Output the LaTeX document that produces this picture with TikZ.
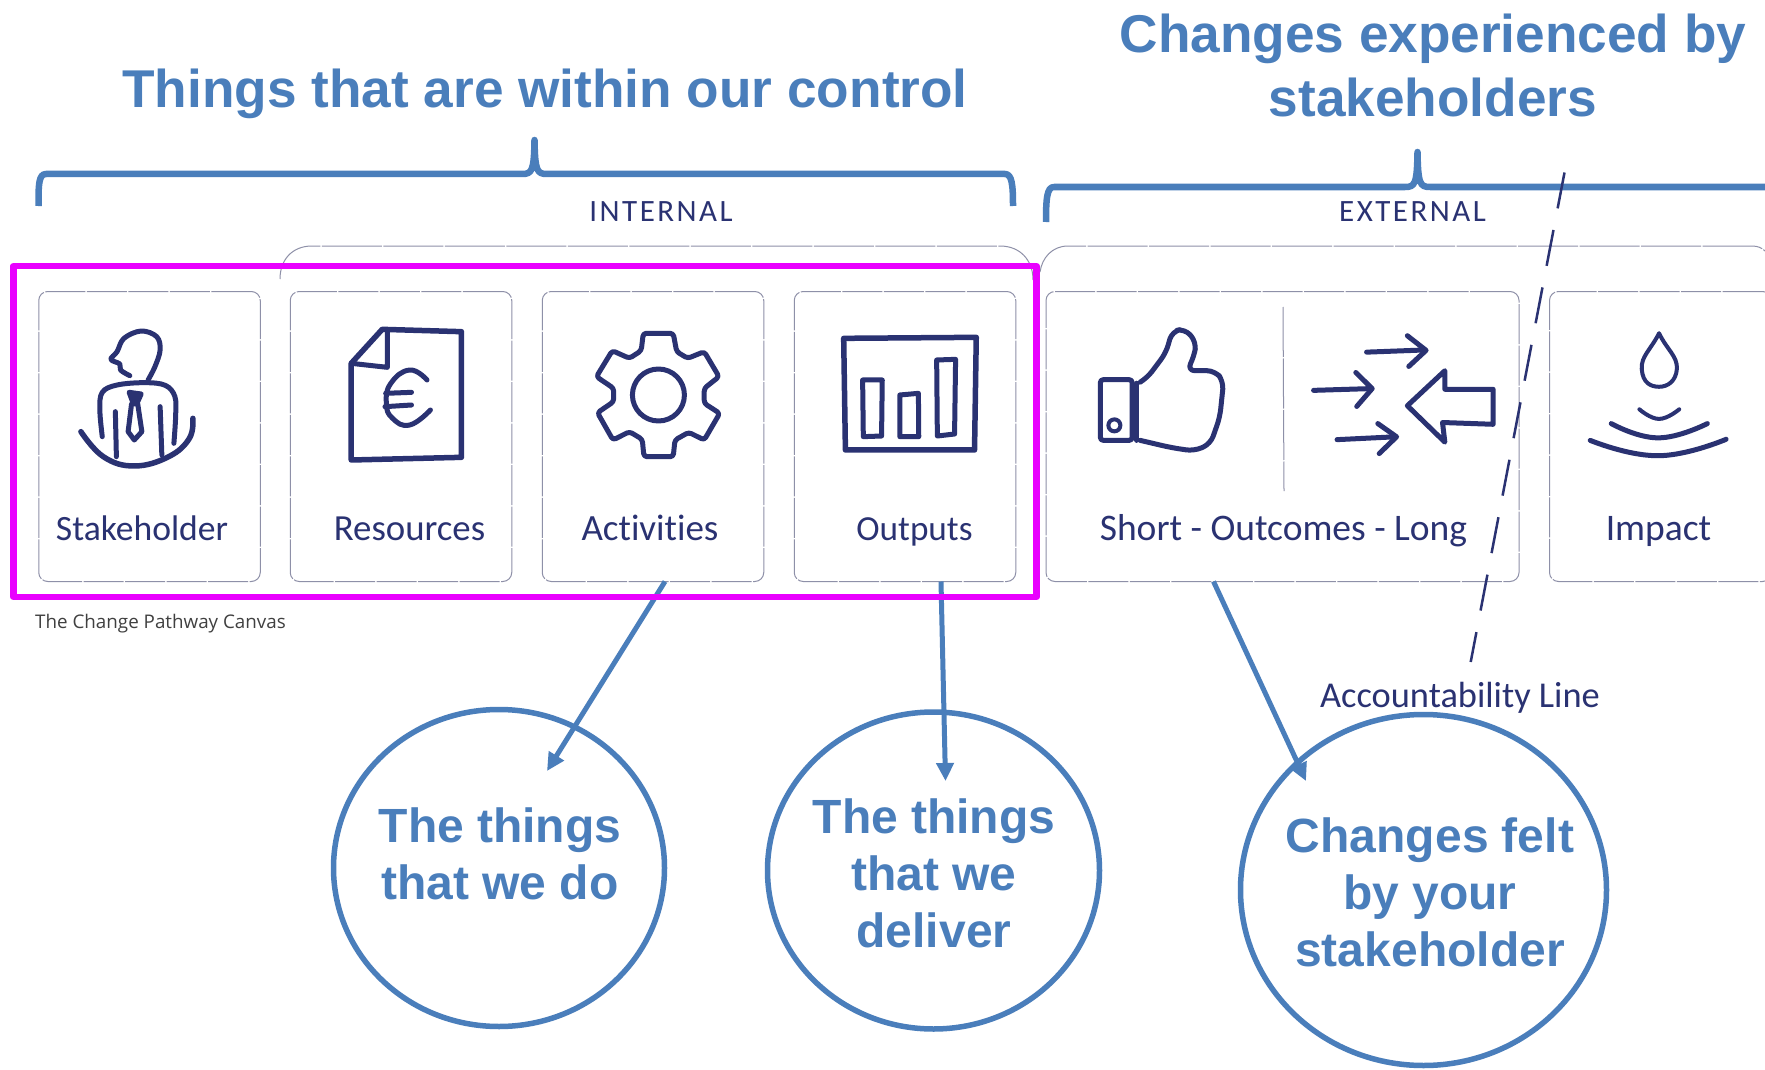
\documentclass[tikz,border=0pt]{standalone}
\usepackage{fontspec}
\setmainfont{Liberation Sans}
\newfontfamily\handfont[Ligatures=NoCommon]{Carlito}
\newfontfamily\handspaced[LetterSpace=8]{Carlito}
\newfontfamily\capfont{Open Sans}
\usetikzlibrary{arrows.meta,shapes.geometric}
\definecolor{headblue}{HTML}{4A7EBB}
\definecolor{magentaframe}{HTML}{E900FF}
\definecolor{inkblue}{HTML}{2A3272}
\definecolor{cardgrey}{HTML}{8E90A8}
\tikzset{
  cardbox/.style={draw=cardgrey,line width=1pt,rounded corners=9pt,dash pattern=on 40pt off 1.5pt,minimum height=290pt,inner sep=0pt,outer sep=0pt},
  cardlabel/.style={text=inkblue,font=\handfont\fontsize{36}{40}\selectfont,anchor=base,inner sep=0pt},
  headtext/.style={text=headblue,font=\bfseries\fontsize{53.2}{64}\selectfont,align=center,anchor=base,inner sep=0pt},
  bubbletext/.style={text=headblue,font=\bfseries\fontsize{48}{57}\selectfont,align=center,anchor=base,inner sep=0pt},
  bubble/.style={draw=headblue,line width=5.5pt,ellipse,inner sep=0pt,outer sep=0pt},
  bracket/.style={draw=headblue,line width=6.5pt,line join=round},
  pointer/.style={draw=headblue,line width=5pt,-{Triangle[width=17pt,length=18pt]}},
  sketch/.style={draw=inkblue,line width=5pt,line cap=round,line join=round},
  sketchthin/.style={draw=inkblue,line width=4pt,line cap=round,line join=round},
  outerline/.style={draw=cardgrey,line width=1pt,dash pattern=on 60pt off 1.5pt},
  iconA/.style={shift={(0,230)},x=0.34435pt,y=-0.33333pt},
  iconB/.style={shift={(520,230)},x=0.34435pt,y=-0.33333pt},
  iconC/.style={shift={(1030,160)},x=0.46875pt,y=-0.35714pt},
}
\begin{document}
\begin{tikzpicture}[x=1pt,y=-1pt]
\useasboundingbox (0,0) rectangle (1765,1070);
\fill[white] (0,0) rectangle (1765,1070);

% headings
\node[headtext] (headleft) at (545,108) {Things that are within our control};
\node[headtext] (headright) at (1433,117) {Changes experienced by\\stakeholders};

% braces
\draw[bracket] (38.5,206) .. controls (38.5,185) and (38.5,174) .. (46,174) -- (522,174)
  .. controls (532,174) and (534,171) .. (534.5,140)
  .. controls (535,171) and (537,174) .. (547,174) -- (1005,174)
  .. controls (1012,174) and (1013,185) .. (1013,206);
\draw[bracket] (1046,222) .. controls (1046,198) and (1047,187) .. (1054,187) -- (1405,187)
  .. controls (1415,187) and (1417,184) .. (1417.5,152)
  .. controls (1418,184) and (1420,187) .. (1430,187) -- (1765,187);

\node[text=inkblue,font=\handspaced\fontsize{31}{36}\selectfont,anchor=base,inner sep=0pt] (internal) at (661,222) {INTERNAL};
\node[text=inkblue,font=\handspaced\fontsize{31}{36}\selectfont,anchor=base,inner sep=0pt] (external) at (1412.5,222) {EXTERNAL};

% outer panels
\draw[outerline] (280,279) .. controls (280,260) and (292,246) .. (312,246) -- (1000,246) .. controls (1020,246) and (1033,260) .. (1033,280);
\draw[outerline] (1040,272) .. controls (1042,258) and (1052,246) .. (1068,246) -- (1752,246) .. controls (1758,246) and (1762,248) .. (1765,251);

% cards
\node[cardbox,minimum width=221.5pt] (stakeholder) at (149.5,436.5) {};
\node[cardbox,minimum width=221.5pt] (resources) at (401,436.5) {};
\node[cardbox,minimum width=221.5pt] (activities) at (653,436.5) {};
\node[cardbox,minimum width=221.5pt] (outputs) at (905,436.5) {};
\node[cardbox,minimum width=473pt] (outcomes) at (1282.5,436.5) {};
\node[cardbox,minimum width=222pt] (impact) at (1660.5,436.5) {};
\draw[draw=cardgrey,line width=1pt,dash pattern=on 50pt off 1.5pt] (1283,307) -- (1284,491);

\node[cardlabel,font=\handfont\fontsize{35.6}{40}\selectfont] (lstake) at (142,540) {Stakeholder};
\node[cardlabel,font=\handfont\fontsize{36.8}{40}\selectfont] (lres) at (409.5,540) {Resources};
\node[cardlabel,font=\handfont\fontsize{37}{40}\selectfont] (lact) at (650,540) {Activities};
\node[cardlabel,font=\handfont\fontsize{35.2}{40}\selectfont] (lout) at (914.5,540) {Outputs};
\node[cardlabel,font=\handfont\fontsize{37.5}{40}\selectfont] (lshort) at (1283.5,540) {Short - Outcomes - Long};
\node[cardlabel,font=\handfont\fontsize{37.5}{40}\selectfont] (limp) at (1658.5,540) {Impact};

% stakeholder icon
\begin{scope}[iconA]
\draw[sketch] plot[smooth,tension=.6] coordinates {(377,437) (350,420) (348,402) (322,388) (340,365) (360,325) (410,303) (455,320) (465,360) (450,410) (430,450)};
\draw[sketch] plot[smooth,tension=.6] coordinates {(297,620) (290,540) (297,487) (340,465) (420,458) (480,466) (508,500) (510,560) (505,640)};
\draw[sketch,line width=5.5pt] plot[smooth,tension=.7] coordinates {(235,605) (300,680) (390,708) (490,680) (550,625) (560,565)};
\draw[sketch] (335,545) -- (338,680);
\draw[sketch] (465,530) -- (470,675);
\draw[sketch,fill=inkblue] (375,487) -- (410,492) -- (400,515) -- (385,515) -- cycle;
\draw[sketch] (382,522) -- (400,522) -- (412,605) -- (390,630) -- (372,605) -- cycle;
% document icon
\draw[sketch,line width=5.5pt] (1020,400) -- (1020,690) -- (1340,682) -- (1340,305) -- (1110,298) -- cycle;
\draw[sketch] (1020,400) -- (1125,412) -- (1125,305);
\draw[sketch] plot[smooth,tension=.8] coordinates {(1240,450) (1190,420) (1135,460) (1122,520) (1140,565) (1190,585) (1250,540)};
\draw[sketch] (1120,490) -- (1195,487);
\draw[sketch] (1118,530) -- (1195,525);
\end{scope}

% gear and chart
\begin{scope}[iconB]
\draw[sketch,rounded corners=3pt] (358,310) -- (445,310) -- (455,365) -- (487,385) -- (535,365) -- (578,440) -- (535,475) -- (535,520) -- (580,550) -- (535,630) -- (490,607) -- (450,630) -- (445,680) -- (360,680) -- (355,628) -- (318,605) -- (270,630) -- (225,548) -- (272,515) -- (272,475) -- (222,440) -- (268,362) -- (318,385) -- (352,362) -- cycle;
\draw[sketch] (402,495) ellipse [x radius=26pt,y radius=26pt];
\draw[sketch,line width=5.5pt] (940,325) -- (1325,322) -- (1320,660) -- (945,660) -- cycle;
\draw[sketch] (995,450) -- (1052,450) -- (1050,618) -- (997,620) -- cycle;
\draw[sketch] (1103,495) -- (1157,490) -- (1158,620) -- (1103,620) -- cycle;
\draw[sketch] (1210,390) -- (1265,388) -- (1262,612) -- (1212,618) -- cycle;
\end{scope}

% thumb, arrows and drop
\begin{scope}[iconC]
\draw[sketch,rounded corners=3pt] (150,615) -- (218,615) -- (218,785) -- (150,785) -- cycle;
\draw[sketchthin] (180,743) ellipse [x radius=6pt,y radius=6pt];
\draw[sketch] (228,625) -- (228,785);
\draw[sketch,rounded corners=8pt] (235,622) -- (250,610) -- (290,540) -- (303,480) -- (330,472) -- (355,510) -- (350,550) -- (335,590) -- (395,590) -- (413,620) -- (405,720) -- (385,795) -- (350,815) -- (300,805) -- (235,785);
\draw[sketch] (718,538) -- (840,532);
\draw[sketch] (805,492) -- (845,533) -- (808,578);
\draw[sketch] (605,645) -- (728,640);
\draw[sketch] (695,595) -- (730,640) -- (697,690);
\draw[sketch] (655,783) -- (780,775);
\draw[sketch] (742,738) -- (782,775) -- (745,822);
\draw[sketch] (988,642) -- (885,642) -- (885,590) -- (805,688) -- (885,790) -- (880,735) -- (988,740) -- cycle;
\draw[sketchthin] (1342,485) .. controls (1325,530) and (1303,550) .. (1305,585) .. controls (1307,625) and (1325,635) .. (1342,635) .. controls (1360,635) and (1378,620) .. (1380,585) .. controls (1382,550) and (1358,530) .. (1342,485) -- cycle;
\draw[sketchthin] plot[smooth,tension=.8] coordinates {(1300,698) (1342,725) (1385,698)};
\draw[sketch] plot[smooth,tension=.8] coordinates {(1240,738) (1340,778) (1445,738)};
\draw[sketch] plot[smooth,tension=.8] coordinates {(1195,785) (1340,828) (1485,782)};
\end{scope}

% accountability line
\coordinate (acctop) at (1564.5,172.5);
\coordinate (accbottom) at (1470.7,662);
\draw[draw=inkblue,line width=2.5pt,dash pattern=on 36.5pt off 22pt] (acctop) -- (accbottom);
\node[cardlabel,font=\handfont\fontsize{36.4}{40}\selectfont] (acclabel) at (1460,707) {Accountability Line};

% caption
\node[text=black!75,font=\capfont\fontsize{18.8}{22}\selectfont,anchor=base west,inner sep=0pt] (caption) at (35,628) {The Change Pathway Canvas};

% bubbles
\node[bubble,minimum width=331pt,minimum height=317pt] (do) at (499,868) {};
\node[bubble,minimum width=332pt,minimum height=317pt] (deliver) at (933.5,870.5) {};
\node[bubble,minimum width=366pt,minimum height=351pt] (felt) at (1423.5,890) {};
\node[bubbletext] (dotext) at (500,899) {The things\\that we do};
\node[bubbletext] (delivertext) at (934,947) {The things\\that we\\deliver};
\node[bubbletext] (felttext) at (1430,966) {Changes felt\\by your\\stakeholder};

% pointers
\coordinate (tipdo) at (547,771);
\coordinate (tipdeliver) at (945.5,781);
\coordinate (tipfelt) at (1306,781);
\draw[pointer] ([xshift=12pt]activities.south) -- (tipdo);
\draw[pointer] ([xshift=36pt]outputs.south) -- (tipdeliver);
\draw[pointer] ([xshift=-69pt]outcomes.south) -- (tipfelt);

% frame
\draw[draw=magentaframe,line width=6.5pt,line join=round] (13.5,266) rectangle (1036.5,597);
\end{tikzpicture}
\end{document}
